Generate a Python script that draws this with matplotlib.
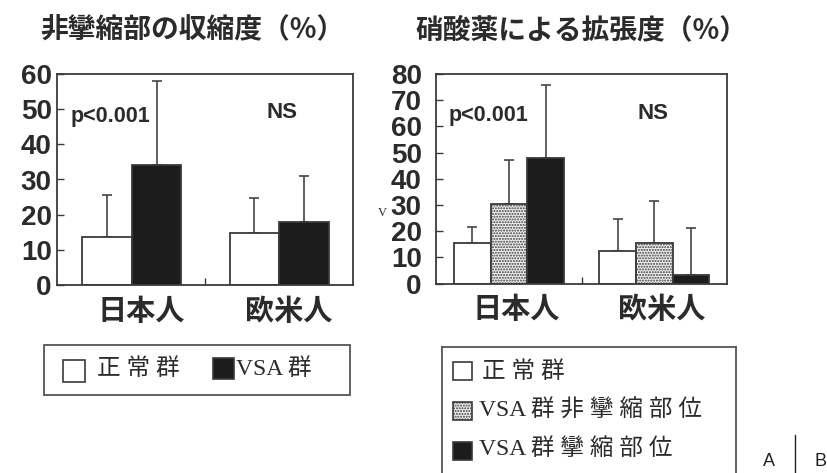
import numpy as np
import matplotlib.pyplot as plt
from matplotlib.patches import Rectangle
from matplotlib.lines import Line2D
from matplotlib.transforms import blended_transform_factory

# data: mean and upper SD for each group
groups = ["日本人", "欧米人"]

# left panel: contraction of non-spastic segment (%)
contr_normal = [13.7, 14.9]
contr_normal_sd = [11.9, 9.9]
contr_vsa = [34.1, 18.0]
contr_vsa_sd = [23.9, 13.0]

# right panel: dilation by nitrates (%)
dil_normal = [15.5, 12.5]
dil_normal_sd = [6.0, 12.0]
dil_nonspastic = [30.4, 15.3]
dil_nonspastic_sd = [16.6, 16.1]
dil_spastic = [47.9, 3.2]
dil_spastic_sd = [27.8, 18.1]

W, H = 827, 473
INK = "#2b2b2b"
EDGE = "#3a3a3a"
CJK = "Noto Sans CJK JP"
NUM = "Liberation Sans"


def fx(px):
    return px / W


def fy(py):
    return 1 - py / H


fig = plt.figure(figsize=(W / 100, H / 100), dpi=100)
fig.patch.set_facecolor("white")


def setup_axes(ax, ymax, step, label_pad):
    ax.set_ylim(0, ymax)
    ax.set_yticks(np.arange(0, ymax + 1, step))
    ax.set_xlim(-0.505, 1.503)
    ax.set_xticks([0.5])
    ax.set_xticklabels([])
    ax.tick_params(axis="y", direction="in", length=5, width=1.0, color=EDGE,
                   pad=label_pad, labelsize=20, labelcolor=INK)
    ax.tick_params(axis="x", direction="in", length=5, width=1.0, color=EDGE)
    for lab in ax.get_yticklabels():
        lab.set_fontfamily(NUM)
        lab.set_fontweight("bold")
    for s in ax.spines.values():
        s.set_linewidth(1.3)
        s.set_color(EDGE)


def draw_bars(ax, series, width):
    x = np.arange(len(groups))
    n = len(series)
    for i, (vals, sd, face, hatch) in enumerate(series):
        pos = x + (i - (n - 1) / 2) * width
        ax.bar(pos, vals, width, color=face, edgecolor=EDGE, linewidth=1.3,
               hatch=hatch, zorder=2)
        ax.errorbar(pos, vals, yerr=[np.zeros(len(vals)), sd], fmt="none",
                    ecolor="#444444", elinewidth=1.2, capsize=3.5,
                    capthick=1.2, zorder=1)


def group_labels(ax, offset, ypx):
    tr = blended_transform_factory(ax.transData, fig.transFigure)
    for i, g in enumerate(groups):
        ax.text(i + offset, fy(ypx), g, transform=tr, ha="center", va="center",
                fontsize=21, fontweight="bold", family=CJK, color=INK)


# left panel
ax1 = fig.add_axes([fx(57.3), fy(285), fx(296), 211 / H])
setup_axes(ax1, 60, 10, 4)
draw_bars(ax1, [(contr_normal, contr_normal_sd, "white", None),
                (contr_vsa, contr_vsa_sd, "#1c1c1c", None)], 0.336)
ax1.text(-0.415, 47.9, "p<0.001", fontsize=15.5, family=NUM,
         fontweight="bold", color=INK, ha="left", va="center")
ax1.text(1.02, 49.0, "NS", fontsize=16, family=NUM, fontweight="bold",
         color=INK, ha="center", va="center")
group_labels(ax1, 0.065, 311)
fig.text(fx(192.5), fy(30.5), "非攣縮部の収縮度（%）", ha="center", va="center",
         fontsize=20, fontweight="bold", family=CJK, color=INK)

# right panel
ax2 = fig.add_axes([fx(435.7), fy(283.5), fx(291.6), 209.5 / H])
setup_axes(ax2, 80, 10, 10)
draw_bars(ax2, [(dil_normal, dil_normal_sd, "white", None),
                (dil_nonspastic, dil_nonspastic_sd, "#f2f2f2", "......"),
                (dil_spastic, dil_spastic_sd, "#1c1c1c", None)], 0.252)
ax2.text(-0.418, 64.2, "p<0.001", fontsize=15.5, family=NUM,
         fontweight="bold", color=INK, ha="left", va="center")
ax2.text(0.99, 65.0, "NS", fontsize=16, family=NUM, fontweight="bold",
         color=INK, ha="center", va="center")
group_labels(ax2, 0.05, 309)
fig.text(fx(581), fy(30), "硝酸薬による拡張度（%）", ha="center", va="center",
         fontsize=20, fontweight="bold", family=CJK, color=INK)
fig.text(fx(382), fy(213), "V", fontsize=9, family="Liberation Serif",
         color=INK, ha="center", va="center")

# legend boxes
legend_font = ["Liberation Serif", CJK]


def key_square(x0, y0, x1, y1, face, hatch=None):
    fig.patches.append(Rectangle((fx(x0), fy(y1)), fx(x1 - x0), (y1 - y0) / H,
                                 transform=fig.transFigure, facecolor=face,
                                 edgecolor=EDGE, linewidth=1.2, hatch=hatch))


fig.patches.append(Rectangle((fx(44), fy(395)), fx(306), 50 / H,
                             transform=fig.transFigure, facecolor="none",
                             edgecolor="#555555", linewidth=1.3))
key_square(63.3, 360, 85, 381.7, "white")
fig.text(fx(96.7), fy(369), "正 常 群", fontsize=17, family=legend_font,
         color=INK, ha="left", va="center")
key_square(212.7, 358.3, 234, 379.3, "#1c1c1c")
fig.text(fx(236), fy(369), "VSA 群", fontsize=17, family=legend_font,
         color=INK, ha="left", va="center")

for xs, ys in [([441.7, 441.7], [480, 346.7]), ([441.7, 736], [346.7, 346.7]),
               ([736, 736], [346.7, 480])]:
    fig.lines.append(Line2D([fx(v) for v in xs], [fy(v) for v in ys],
                            transform=fig.transFigure, color="#555555",
                            linewidth=1.3))
key_square(453.3, 361.7, 471.7, 380, "white")
fig.text(fx(481.7), fy(371.7), "正 常 群", fontsize=17, family=legend_font,
         color=INK, ha="left", va="center")
key_square(453.3, 401.7, 471.7, 420, "#f2f2f2", "......")
fig.text(fx(479.3), fy(410.8), "VSA 群 非 攣 縮 部 位", fontsize=17,
         family=legend_font, color=INK, ha="left", va="center")
key_square(453.3, 441.7, 471.7, 460, "#1c1c1c")
fig.text(fx(479.3), fy(449), "VSA 群 攣 縮 部 位", fontsize=17,
         family=legend_font, color=INK, ha="left", va="center")

# panel letters
fig.text(fx(769), fy(461), "A", fontsize=13, family=NUM, color="#222222",
         ha="center", va="center")
fig.lines.append(Line2D([fx(795), fx(795)], [fy(435), fy(473)],
                        transform=fig.transFigure, color="#222222",
                        linewidth=1.0))
fig.text(fx(820), fy(461), "B", fontsize=13, family=NUM, color="#222222",
         ha="center", va="center")

fig.savefig("out.png", dpi=100, facecolor="white")
